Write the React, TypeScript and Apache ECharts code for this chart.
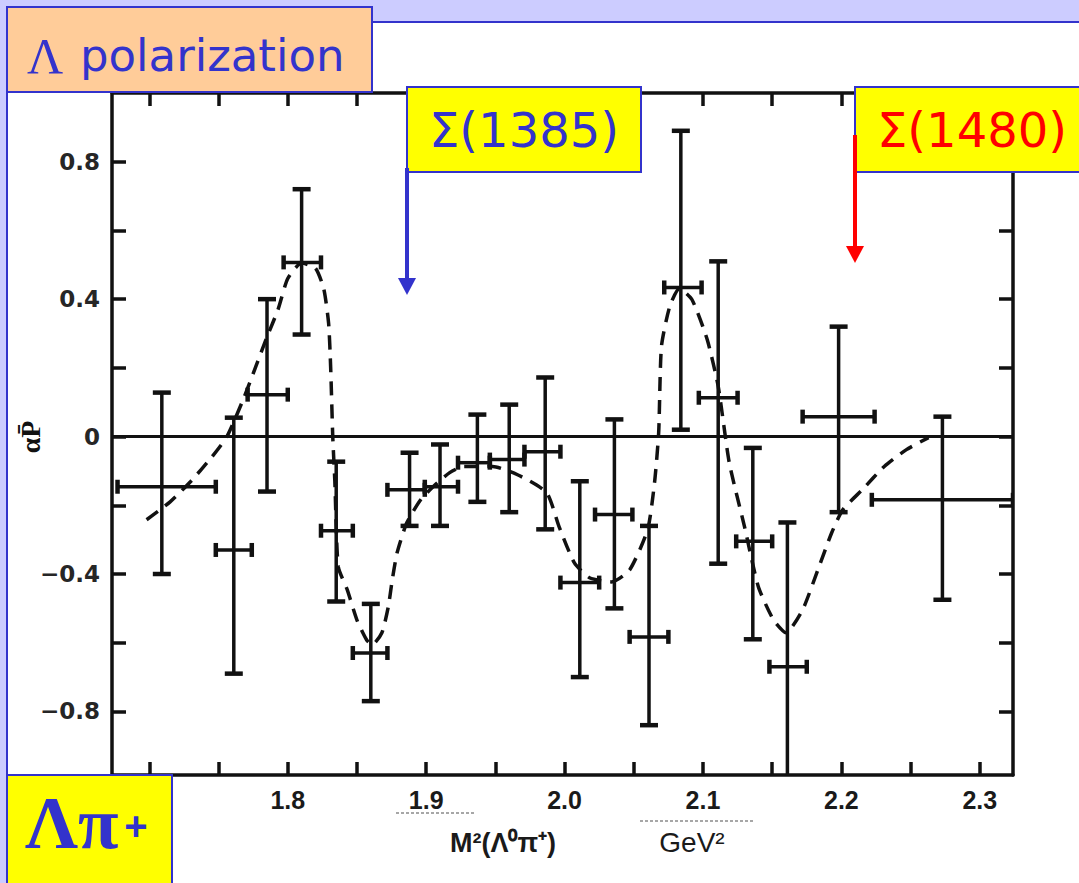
import React, { useEffect, useRef } from "react";
import * as echarts from "echarts";

// ---------- data ----------
const xTickValues = [1.7, 1.75, 1.8, 1.85, 1.9, 1.95, 2.0, 2.05, 2.1, 2.15, 2.2, 2.25, 2.3];
const xLabelValues = [1.8, 1.9, 2.0, 2.1, 2.2, 2.3];
const yTickValues = [-0.8, -0.6, -0.4, -0.2, 0, 0.2, 0.4, 0.6, 0.8];
const yLabelValues = [-0.8, -0.4, 0, 0.4, 0.8];

// measured points (M^2 centre, bin low, bin high, alpha*P, low, high)
const pointX = [1.709, 1.761, 1.785, 1.81, 1.835, 1.86, 1.888, 1.91, 1.937, 1.96, 1.986, 2.011, 2.036, 2.061, 2.084, 2.111, 2.136, 2.161, 2.198, 2.273];
const pointXLow = [1.677, 1.748, 1.771, 1.797, 1.824, 1.847, 1.872, 1.899, 1.923, 1.946, 1.971, 1.997, 2.022, 2.047, 2.072, 2.097, 2.124, 2.148, 2.172, 2.222];
const pointXHigh = [1.748, 1.774, 1.8, 1.824, 1.847, 1.872, 1.899, 1.923, 1.946, 1.971, 1.997, 2.025, 2.049, 2.075, 2.099, 2.125, 2.15, 2.175, 2.224, 2.324];
const pointY = [-0.146, -0.33, 0.122, 0.507, -0.274, -0.63, -0.155, -0.146, -0.076, -0.067, -0.044, -0.425, -0.227, -0.583, 0.434, 0.113, -0.305, -0.67, 0.058, -0.184];
const pointYLow = [-0.4, -0.69, -0.16, 0.297, -0.48, -0.77, -0.26, -0.26, -0.19, -0.22, -0.27, -0.7, -0.5, -0.84, 0.02, -0.37, -0.59, -1.05, -0.22, -0.475];
const pointYHigh = [0.128, 0.055, 0.4, 0.72, -0.073, -0.487, -0.047, -0.023, 0.064, 0.093, 0.172, -0.13, 0.05, -0.26, 0.89, 0.51, -0.033, -0.25, 0.32, 0.058];

// dashed fit curve
const curveX = [1.698, 1.715, 1.73, 1.745, 1.756, 1.768, 1.785, 1.793, 1.8, 1.81, 1.82, 1.826, 1.8295, 1.831, 1.8325, 1.834, 1.8365, 1.843, 1.85, 1.857, 1.861, 1.868, 1.8726, 1.8755, 1.879, 1.886, 1.896, 1.905, 1.917, 1.927, 1.948, 1.966, 1.987, 1.996, 2.007, 2.018, 2.034, 2.047, 2.06, 2.065, 2.068, 2.07, 2.076, 2.083, 2.092, 2.103, 2.111, 2.119, 2.13, 2.14, 2.151, 2.16, 2.172, 2.183, 2.193, 2.201, 2.215, 2.231, 2.247, 2.263];
const curveY = [-0.242, -0.19, -0.13, -0.06, 0.0, 0.11, 0.29, 0.37, 0.46, 0.505, 0.49, 0.43, 0.33, 0.2, 0.0, -0.13, -0.379, -0.446, -0.534, -0.592, -0.606, -0.571, -0.496, -0.417, -0.338, -0.251, -0.184, -0.146, -0.105, -0.087, -0.087, -0.111, -0.163, -0.262, -0.367, -0.411, -0.423, -0.388, -0.271, -0.134, 0.012, 0.262, 0.379, 0.431, 0.399, 0.283, 0.146, -0.076, -0.262, -0.437, -0.534, -0.571, -0.504, -0.388, -0.28, -0.213, -0.155, -0.087, -0.038, -0.003];

const BLUE = "#3333CC";
const INK = "#111111";

export default function App() {
  const ref = useRef<HTMLDivElement>(null);

  useEffect(() => {
    if (!ref.current) return;
    const chart = echarts.init(ref.current, undefined, { renderer: "svg" });

    const fmt = (v: number) => (v === 0 ? "0" : v < 0 ? "\u2212" + Math.abs(v).toFixed(1) : v.toFixed(1));

    const axisLineStyle = { color: INK, width: 3.5 };
    const tickStyle = { color: INK, width: 3.5 };

    const errData = pointX.map((x, i) => [x, pointXLow[i], pointXHigh[i], pointY[i], pointYLow[i], pointYHigh[i]]);
    const curveData = curveX.map((x, i) => [x, curveY[i]]);

    const option: any = {
      animation: false,
      backgroundColor: "#ffffff",
      grid: { left: 112, top: 93, width: 901, height: 682, containLabel: false },
      xAxis: [
        {
          type: "value",
          min: 1.673,
          max: 2.324,
          position: "bottom",
          axisLine: { show: true, onZero: false, lineStyle: axisLineStyle },
          axisTick: { show: true, inside: true, length: 13, lineStyle: tickStyle, customValues: xTickValues },
          axisLabel: {
            customValues: xLabelValues,
            formatter: (v: number) => v.toFixed(1),
            margin: 12,
            fontSize: 25,
            fontWeight: "bold",
            fontFamily: "Liberation Sans",
            color: "#1a1a1a",
          },
          splitLine: { show: false },
        },
        {
          type: "value",
          min: 1.673,
          max: 2.324,
          position: "top",
          axisLine: { show: true, onZero: false, lineStyle: axisLineStyle },
          axisTick: { show: true, inside: true, length: 13, lineStyle: tickStyle, customValues: xTickValues },
          axisLabel: { show: false },
          splitLine: { show: false },
        },
      ],
      yAxis: [
        {
          type: "value",
          min: -0.985,
          max: 1.0,
          position: "left",
          axisLine: { show: true, onZero: false, lineStyle: axisLineStyle },
          axisTick: { show: true, inside: true, length: 14, lineStyle: tickStyle, customValues: yTickValues },
          axisLabel: {
            customValues: yLabelValues,
            formatter: fmt,
            margin: 12,
            fontSize: 23,
            fontWeight: "bold",
            fontFamily: "DejaVu Sans",
            color: "#262626",
          },
          splitLine: { show: false },
        },
        {
          type: "value",
          min: -0.985,
          max: 1.0,
          position: "right",
          axisLine: { show: true, onZero: false, lineStyle: axisLineStyle },
          axisTick: { show: true, inside: true, length: 14, lineStyle: tickStyle, customValues: yTickValues },
          axisLabel: { show: false },
          splitLine: { show: false },
        },
      ],
      series: [
        {
          type: "line",
          xAxisIndex: 0,
          yAxisIndex: 0,
          data: curveData,
          showSymbol: false,
          smooth: 0.2,
          lineStyle: { color: INK, width: 3.5, type: [14, 9] },
          silent: true,
          z: 3,
          markLine: {
            silent: true,
            symbol: ["none", "none"],
            label: { show: false },
            lineStyle: { color: INK, width: 3, type: "solid" },
            data: [{ yAxis: 0 }],
          },
        },
        {
          type: "custom",
          xAxisIndex: 0,
          yAxisIndex: 0,
          clip: true,
          z: 4,
          encode: { x: [0, 1, 2], y: [3, 4, 5] },
          data: errData,
          renderItem: (params: any, api: any) => {
            const x = api.value(0);
            const y = api.value(3);
            const c = api.coord([x, y]);
            const pl = api.coord([api.value(1), y]);
            const ph = api.coord([api.value(2), y]);
            const pyl = api.coord([x, api.value(4)]);
            const pyh = api.coord([x, api.value(5)]);
            const capW = 9;
            const capH = 7;
            const style = { stroke: INK, lineWidth: 3.5, fill: "none" };
            const cap = { stroke: INK, lineWidth: 4.5, fill: "none" };
            return {
              type: "group",
              children: [
                { type: "line", shape: { x1: pl[0], y1: c[1], x2: ph[0], y2: c[1] }, style },
                { type: "line", shape: { x1: pl[0], y1: c[1] - capH, x2: pl[0], y2: c[1] + capH }, style: cap },
                { type: "line", shape: { x1: ph[0], y1: c[1] - capH, x2: ph[0], y2: c[1] + capH }, style: cap },
                { type: "line", shape: { x1: c[0], y1: pyl[1], x2: c[0], y2: pyh[1] }, style },
                { type: "line", shape: { x1: c[0] - capW, y1: pyh[1], x2: c[0] + capW, y2: pyh[1] }, style: cap },
                { type: "line", shape: { x1: c[0] - capW, y1: pyl[1], x2: c[0] + capW, y2: pyl[1] }, style: cap },
              ],
            };
          },
        },
      ],
      graphic: {
        elements: [
          // slide decoration
          { type: "rect", z: 100, shape: { x: 0, y: 0, width: 1079, height: 22 }, style: { fill: "#CCCCFF" } },
          { type: "rect", z: 100, shape: { x: 0, y: 0, width: 6, height: 883 }, style: { fill: "#CCCCFF" } },
          { type: "line", z: 101, shape: { x1: 6, y1: 22, x2: 1079, y2: 22 }, style: { stroke: BLUE, lineWidth: 2 } },
          { type: "line", z: 101, shape: { x1: 7, y1: 22, x2: 7, y2: 883 }, style: { stroke: BLUE, lineWidth: 2 } },
          // title box
          { type: "rect", z: 102, shape: { x: 7, y: 7, width: 365, height: 85 }, style: { fill: "#FFCC99", stroke: BLUE, lineWidth: 2 } },
          {
            type: "text", z: 103, x: 27, y: 56,
            style: { text: "\u039B", fontSize: 50, fontFamily: "Liberation Serif", fill: BLUE, textAlign: "left", textVerticalAlign: "middle" },
          },
          {
            type: "text", z: 103, x: 80, y: 55,
            style: { text: "polarization", fontSize: 45, fontFamily: "DejaVu Sans", fill: BLUE, textAlign: "left", textVerticalAlign: "middle" },
          },
          // Sigma(1385)
          { type: "rect", z: 102, shape: { x: 407, y: 87, width: 234, height: 85 }, style: { fill: "#FFFF00", stroke: BLUE, lineWidth: 2 } },
          {
            type: "text", z: 103, x: 524, y: 130,
            style: { text: "\u03A3(1385)", fontSize: 48, fontFamily: "DejaVu Sans", fill: BLUE, textAlign: "center", textVerticalAlign: "middle" },
          },
          { type: "line", z: 104, shape: { x1: 407, y1: 168, x2: 407, y2: 280 }, style: { stroke: BLUE, lineWidth: 4 } },
          { type: "polygon", z: 104, shape: { points: [[398, 278], [416, 278], [407, 295]] }, style: { fill: BLUE } },
          // Sigma(1480)
          { type: "rect", z: 102, shape: { x: 855, y: 87, width: 240, height: 85 }, style: { fill: "#FFFF00", stroke: BLUE, lineWidth: 2 } },
          {
            type: "text", z: 103, x: 972, y: 130,
            style: { text: "\u03A3(1480)", fontSize: 48, fontFamily: "DejaVu Sans", fill: "#FF0000", textAlign: "center", textVerticalAlign: "middle" },
          },
          { type: "line", z: 104, shape: { x1: 855, y1: 135, x2: 855, y2: 248 }, style: { stroke: "#FF0000", lineWidth: 4 } },
          { type: "polygon", z: 104, shape: { points: [[846, 246], [864, 246], [855, 263]] }, style: { fill: "#FF0000" } },
          // Lambda pi+ box
          { type: "rect", z: 102, shape: { x: 7, y: 775, width: 165, height: 115 }, style: { fill: "#FFFF00", stroke: BLUE, lineWidth: 2 } },
          {
            type: "text", z: 103, x: 25, y: 860,
            style: { text: "\u039B\u03C0", fontSize: 74, fontWeight: "bold", fontFamily: "Liberation Serif", fill: BLUE, textAlign: "left", textVerticalAlign: "bottom" },
          },
          {
            type: "text", z: 103, x: 136, y: 826,
            style: { text: "+", fontSize: 40, fontWeight: "bold", fontFamily: "Liberation Sans", fill: BLUE, textAlign: "center", textVerticalAlign: "middle" },
          },
          // axis names
          {
            type: "text", z: 50, x: 30, y: 437, rotation: Math.PI / 2,
            style: { text: "\u03B1P\u0304", fontSize: 28, fontWeight: "bold", fontFamily: "Liberation Serif", fill: INK, textAlign: "center", textVerticalAlign: "middle" },
          },
          {
            type: "text", z: 50, x: 503, y: 843,
            style: { text: "M\u00B2(\u039B\u2070\u03C0\u207A)", fontSize: 27, fontWeight: "bold", fontFamily: "Liberation Sans", fill: "#1a1a1a", textAlign: "center", textVerticalAlign: "middle" },
          },
          {
            type: "text", z: 50, x: 692, y: 842,
            style: { text: "GeV\u00B2", fontSize: 28, fontFamily: "Liberation Sans", fill: "#1a1a1a", textAlign: "center", textVerticalAlign: "middle" },
          },
          { type: "line", z: 50, shape: { x1: 396, y1: 813, x2: 475, y2: 813 }, style: { stroke: "#8a8a8a", lineWidth: 1.5, lineDash: [3, 2] } },
          { type: "line", z: 50, shape: { x1: 640, y1: 821, x2: 754, y2: 821 }, style: { stroke: "#8a8a8a", lineWidth: 1.5, lineDash: [3, 2] } },
        ],
      },
    };

    chart.setOption(option);
    return () => chart.dispose();
  }, []);

  return (
    <div
      ref={ref}
      style={{ position: "fixed", left: 0, top: 0, width: "1079px", height: "883px", background: "#ffffff" }}
    />
  );
}
